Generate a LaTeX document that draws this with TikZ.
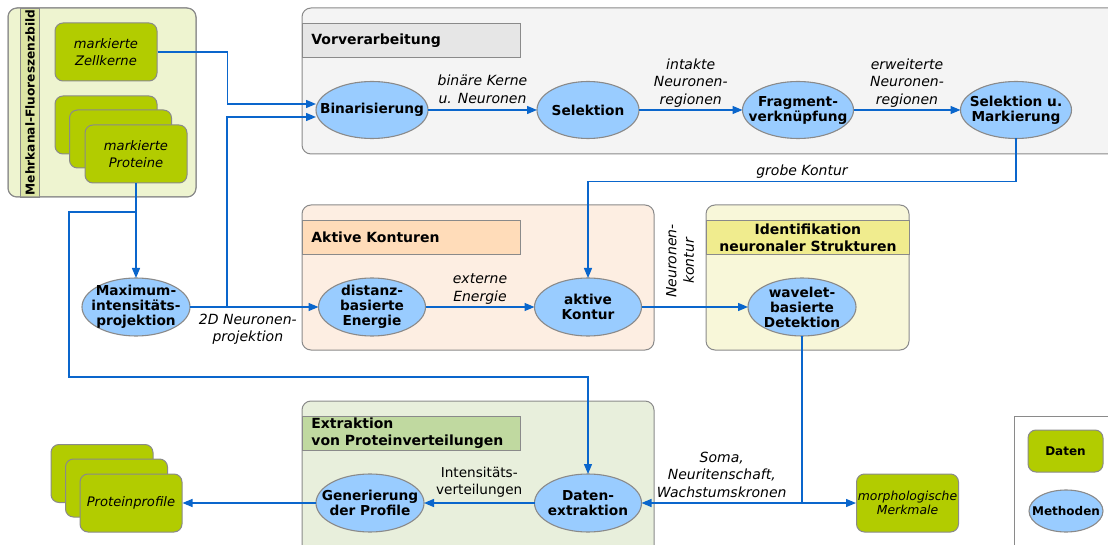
\documentclass[tikz,border=0pt]{standalone}
\usepackage{fontspec}
\setmainfont{DejaVu Sans}
\usetikzlibrary{shapes.geometric,arrows.meta}
\definecolor{framegray}{HTML}{8A8A8A}
\definecolor{flowblue}{HTML}{0A66CC}
\definecolor{datagreen}{HTML}{B2CC00}
\definecolor{methblue}{HTML}{99CCFF}
\definecolor{mehrfill}{HTML}{EEF4D0}
\definecolor{mehrband}{HTML}{DCE5A4}
\definecolor{vorfill}{HTML}{F4F4F4}
\definecolor{vortitle}{HTML}{E6E6E6}
\definecolor{aktfill}{HTML}{FDEEE2}
\definecolor{akttitle}{HTML}{FFDCB9}
\definecolor{identfill}{HTML}{F8F7D9}
\definecolor{identtitle}{HTML}{F0EC8E}
\definecolor{extfill}{HTML}{E8EFDC}
\definecolor{exttitle}{HTML}{C0D9A0}
\begin{document}
\begin{tikzpicture}[x=1pt,y=-1pt]
  \tikzstyle{group}=[draw=framegray,line width=1pt,rounded corners=9pt]
  \tikzstyle{grouptitle}=[draw=framegray,line width=0.8pt,anchor=north west,minimum height=34pt,inner xsep=9pt,inner ysep=1pt,font=\bfseries\fontsize{14}{17}\selectfont]
  \tikzstyle{data}=[draw=framegray,line width=1pt,fill=datagreen,rounded corners=8pt,minimum width=102pt,minimum height=58pt,align=center,font=\itshape\fontsize{13.1}{17}\selectfont]
  \tikzstyle{method}=[ellipse,draw=framegray,line width=1.1pt,fill=methblue,minimum width=108pt,minimum height=58pt,inner xsep=-13pt,inner ysep=-5pt,outer sep=0pt,align=center,font=\bfseries\fontsize{13.7}{15}\selectfont]
  \tikzstyle{flow}=[draw=flowblue,line width=1.3pt,-{Triangle[length=10pt,width=8pt]}]
  \tikzstyle{lbl}=[font=\itshape\fontsize{14}{17.5}\selectfont,align=center,inner sep=2pt]
  \useasboundingbox (0,0) rectangle (1108,545);
  \clip (0,0) rectangle (1108,545);
  \draw [group,fill=mehrfill] (8,8) rectangle (196,197);
  \draw [draw=framegray,line width=0.8pt,fill=mehrband] (20,8) rectangle (39,197);
  \draw [group] (8,8) rectangle (196,197);
  \draw [group,fill=vorfill] (302,8) rectangle (1125,154);
  \draw [group,fill=aktfill] (302,205) rectangle (654,350);
  \draw [group,fill=identfill] (706,205) rectangle (909,350);
  \draw [group,fill=extfill] (302,401) rectangle (654,560);
  \draw [draw=framegray,line width=1pt,fill=white] (1014,416) rectangle (1125,560);
  \node [rotate=90,font=\bfseries\fontsize{12.2}{15}\selectfont] (tmehr) at (30,102.5) {Mehrkanal-Fluoreszenzbild};
  \node [grouptitle,fill=vortitle,text width=200pt,align=left] (tvor) at (302,23) {Vorverarbeitung};
  \node [grouptitle,fill=akttitle,text width=200pt,align=left] (takt) at (302,220) {Aktive Konturen};
  \node [grouptitle,fill=identtitle,text width=185pt,align=center] (tid) at (706,220) {Identifikation\\neuronaler Strukturen};
  \node [grouptitle,fill=exttitle,text width=200pt,align=left] (tex) at (302,416) {Extraktion\\von Proteinverteilungen};
  \node [data] (zk) at (106,52) {markierte\\Zellkerne};
  \node [data] (pr1) at (106,125) {};
  \node [data] (pr2) at (120.5,139) {};
  \node [data] (pr3) at (136,154) {markierte\\Proteine};
  \node [data] (pp1) at (102,473.5) {};
  \node [data] (pp2) at (116.5,488) {};
  \node [data] (pp3) at (131,503) {Proteinprofile};
  \node [data,inner xsep=0pt,font=\itshape\fontsize{12.4}{14}\selectfont] (mm) at (907.5,503) {morphologische\\Merkmale};
  \node [method] (mip) at (136,307) {Maximum-\\intensitäts-\\projektion};
  \node [method,minimum width=112pt,minimum height=57pt] (bin) at (372,110) {Binarisierung};
  \node [method,minimum width=102pt,minimum height=57pt] (sel) at (588,110) {Selektion};
  \node [method,minimum width=111pt,minimum height=57pt] (frag) at (798,110) {Fragment-\\verknüpfung};
  \node [method,minimum width=111pt,minimum height=57pt] (selm) at (1016,110) {Selektion u.\\Markierung};
  \node [method,minimum width=107pt] (dist) at (372,307) {distanz-\\basierte\\Energie};
  \node [method,minimum width=107pt] (akt) at (588,307) {aktive\\Kontur};
  \node [method] (wav) at (802,307) {wavelet-\\basierte\\Detektion};
  \node [method] (gen) at (370,503) {Generierung\\der Profile};
  \node [method,minimum width=107pt] (dat) at (588,503) {Daten-\\extraktion};
  \node [data,font=\bfseries\fontsize{12}{14}\selectfont,minimum width=75pt,minimum height=42pt] (ldat) at (1065.5,451) {Daten};
  \node [method,font=\bfseries\fontsize{12}{14}\selectfont,minimum width=74pt,minimum height=42pt] (lmeth) at (1066,511) {Methoden};
  \node [lbl,rotate=90] (nk) at (680,261) {Neuronen-\\kontur};
  \coordinate (b1) at (136,212);
  \coordinate (b2) at (227,307);
  \coordinate (b3) at (802,503);
  \draw [flow] (zk.east) -- ++(70,0) |- ([yshift=6pt]bin.west);
  \draw [flow] (b2) |- ([yshift=-7pt]bin.west);
  \draw [flow] (pr3.south) -- (mip.north);
  \draw [flow] (b1) -| (69,377) -| (dat.north);
  \draw [flow] (mip) -- node [lbl,below=4pt,pos=0.45] {2D Neuronen-\\projektion} (dist);
  \draw [flow] (bin) -- node [lbl,above=4pt] {binäre Kerne\\u. Neuronen} (sel);
  \draw [flow] (sel) -- node [lbl,above] {intakte\\Neuronen-\\regionen} (frag);
  \draw [flow] (frag) -- node [lbl,above] {erweiterte\\Neuronen-\\regionen} (selm);
  \draw [flow] (selm.south) -- ++(0,43) -| node [lbl,above,pos=0.25] {grobe Kontur} (akt.north);
  \draw [flow] (dist) -- node [lbl,above] {externe\\Energie} (akt);
  \draw [flow] (akt) -- (wav);
  \draw [flow] (wav.south) -- (b3) -- node [lbl,above=3pt] {Soma,\\Neuritenschaft,\\Wachstumskronen} (dat.east);
  \draw [flow] (b3) -- (mm.west);
  \draw [flow] (dat) -- node [lbl,font=\fontsize{13.6}{17.5}\selectfont,above=3pt] {Intensitäts-\\verteilungen} (gen);
  \draw [flow] (gen) -- (pp3);
\end{tikzpicture}
\end{document}
